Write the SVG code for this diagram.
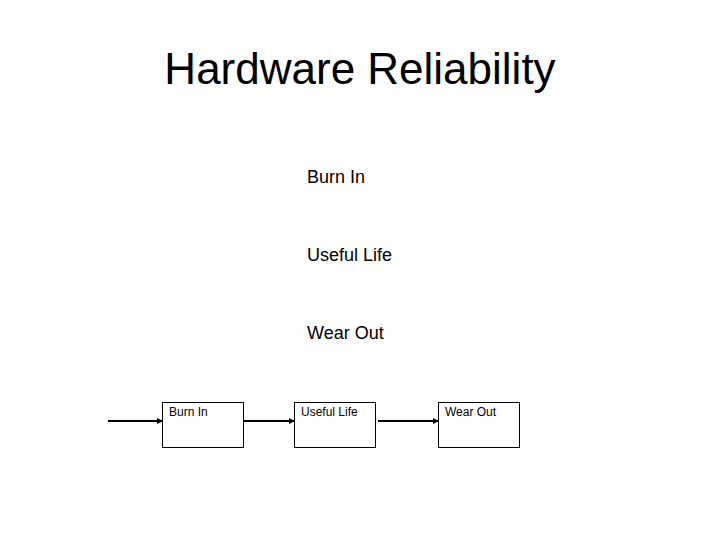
<svg xmlns="http://www.w3.org/2000/svg" width="720" height="540" viewBox="0 0 720 540">
<style>
text{font-family:"Liberation Sans",Arial,sans-serif;fill:#000}
.box{fill:#fff;stroke:#000;stroke-width:1}
.con{stroke:#000;stroke-width:2;fill:none;marker-end:url(#ah)}
.lbl{font-size:12px}
.lst{font-size:18px}
</style>
<defs>
<marker id="ah" markerWidth="6" markerHeight="6" refX="5" refY="3" orient="auto" markerUnits="userSpaceOnUse">
<path d="M0,0 L6,3 L0,6 Z" fill="#000"/>
</marker>
</defs>
<rect width="720" height="540" fill="#fff"/>
<text x="360" y="84" font-size="44" text-anchor="middle">Hardware Reliability</text>
<g id="list">
<text class="lst" x="307" y="183">Burn In</text>
<text class="lst" x="307" y="261">Useful Life</text>
<text class="lst" x="307" y="339">Wear Out</text>
</g>
<g id="connectors">
<line class="con" x1="108" y1="421" x2="162" y2="421"/>
<line class="con" x1="244" y1="421" x2="294" y2="421"/>
<line class="con" x1="378" y1="421" x2="438" y2="421"/>
</g>
<g id="burnin">
<rect class="box" x="162.5" y="402.5" width="81" height="45"/>
<text class="lbl" x="169" y="416">Burn In</text>
</g>
<g id="usefullife">
<rect class="box" x="294.5" y="402.5" width="81" height="45"/>
<text class="lbl" x="301" y="416">Useful Life</text>
</g>
<g id="wearout">
<rect class="box" x="438.5" y="402.5" width="81" height="45"/>
<text class="lbl" x="445" y="416">Wear Out</text>
</g>
</svg>
